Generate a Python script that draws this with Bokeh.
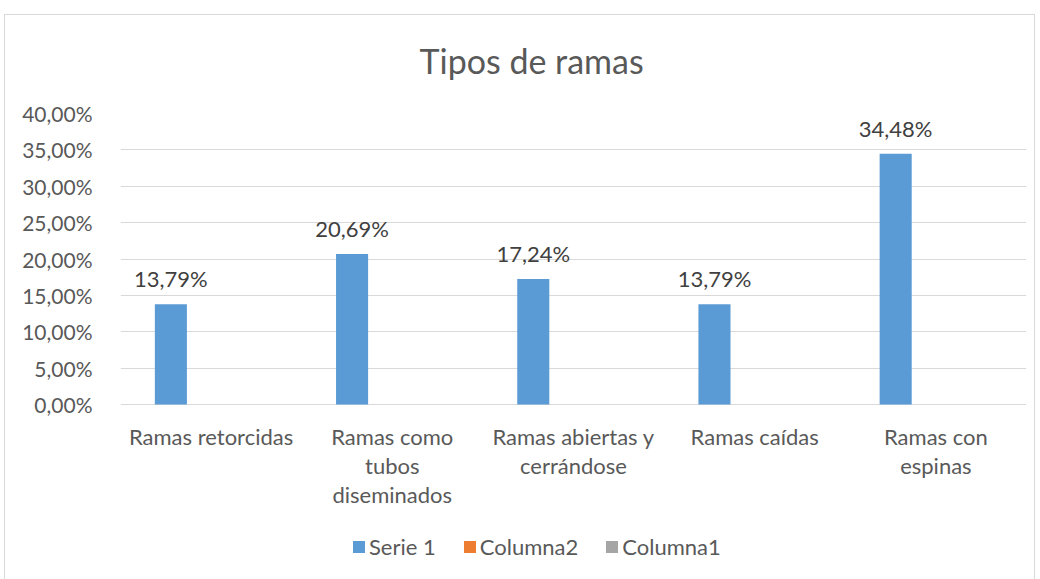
from bokeh.plotting import figure
from bokeh.models import (FactorRange, ColumnDataSource, CustomJSTickFormatter,
                          Legend, LegendItem, FixedTicker, InlineStyleSheet)
from bokeh.transform import dodge
from bokeh.core.properties import value
from bokeh.embed import file_html
from bokeh.resources import INLINE

# ---- data ----
categories = ["Ramas retorcidas", "Ramas como tubos diseminados", "Ramas abiertas y cerrándose",
              "Ramas caídas", "Ramas con espinas"]
category_labels = ["Ramas retorcidas", "Ramas como\ntubos\ndiseminados", "Ramas abiertas y\ncerrándose",
                   "Ramas caídas", "Ramas con\nespinas"]
serie1 = [13.79, 20.69, 17.24, 13.79, 34.48]
columna2 = [0, 0, 0, 0, 0]
columna1 = [0, 0, 0, 0, 0]
y_ticks = [0, 5, 10, 15, 20, 25, 30, 35, 40]
title_text = "Tipos de ramas"
series_names = ["Serie 1", "Columna2", "Columna1"]
colors = ["#5B9BD5", "#ED7D31", "#A5A5A5"]

FONT = "Lato"
TXT = "#595959"

# layout (pixels)
PLOT_H = 291          # height of the 0..40 % value area
FRAME_H = 458         # value area + room for category labels and legend
Y_MAX = 40
y_min = -Y_MAX * (FRAME_H - PLOT_H) / PLOT_H

src = ColumnDataSource(dict(
    cat=categories, catlbl=category_labels, s1=serie1, c2=columna2, c1=columna1,
    base=[0] * len(categories),
    lbl=[f"{v:.2f}".replace(".", ",") + "%" for v in serie1],
))

border_css = InlineStyleSheet(css="""
:host::after {
  content: ""; position: absolute; left: 4px; top: 14px; width: 1029px; height: 564px;
  border-style: solid solid none solid; border-width: 1px; border-color: #D9D9D9;
  pointer-events: none;
}
""")

p = figure(x_range=FactorRange(factors=categories, range_padding=0),
           y_range=(y_min, Y_MAX), frame_width=906, frame_height=FRAME_H, output_backend="svg",
           toolbar_location=None, title=title_text,
           min_border_left=120, min_border_right=12, min_border_top=113, min_border_bottom=6)
p.stylesheets = [border_css]
p.outline_line_color = None
p.background_fill_color = "white"
p.border_fill_color = "white"

p.title.align = "left"
p.title.offset = 299
p.title.standoff = 65
p.title.text_font = FONT
p.title.text_font_size = "34px"
p.title.text_font_style = "normal"
p.title.text_color = TXT

off = 0.222
bw = 0.177
r1 = p.vbar(x=dodge("cat", -off, range=p.x_range), top="s1", width=bw, source=src,
            fill_color=colors[0], line_color=None)
r2 = p.vbar(x=dodge("cat", 0, range=p.x_range), top="c2", width=bw, source=src,
            fill_color=colors[1], line_color=None)
r3 = p.vbar(x=dodge("cat", off, range=p.x_range), top="c1", width=bw, source=src,
            fill_color=colors[2], line_color=None)

# data labels
p.text(x=dodge("cat", -off, range=p.x_range), y="s1", text="lbl", source=src,
       text_align="center", text_baseline="bottom", y_offset=-12,
       text_font=value(FONT), text_font_size="22px", text_color="#404040")

# category labels (under the 0 line)
p.text(x="cat", y="base", text="catlbl", source=src,
       text_align="center", text_baseline="top", y_offset=18, text_line_height=1.08,
       text_font=value(FONT), text_font_size="22px", text_color=TXT)

# axes
p.xaxis.visible = False
p.yaxis.ticker = FixedTicker(ticks=y_ticks)
p.yaxis.formatter = CustomJSTickFormatter(code="return tick.toFixed(2).replace('.', ',') + '%';")
p.yaxis.axis_line_color = None
p.yaxis.major_tick_line_color = None
p.yaxis.minor_tick_line_color = None
p.yaxis.major_label_standoff = 22
p.yaxis.major_label_text_font_size = "21px"
p.yaxis.major_label_text_font = FONT
p.yaxis.major_label_text_color = TXT
p.xgrid.grid_line_color = None
p.ygrid.ticker = FixedTicker(ticks=y_ticks)
p.ygrid.grid_line_color = "#D9D9D9"
p.ygrid.grid_line_width = 1

# legend
legend = Legend(items=[LegendItem(label=series_names[0], renderers=[r1]),
                       LegendItem(label=series_names[1], renderers=[r2]),
                       LegendItem(label=series_names[2], renderers=[r3])],
                orientation="horizontal", location=(231, 11),
                glyph_width=15, glyph_height=15, label_standoff=3, spacing=26,
                padding=0, margin=0, border_line_color=None, background_fill_alpha=0,
                label_text_font=FONT, label_text_font_size="22px", label_text_color=TXT)
p.add_layout(legend, "center")

open("out.html", "w").write(file_html(p, INLINE))
